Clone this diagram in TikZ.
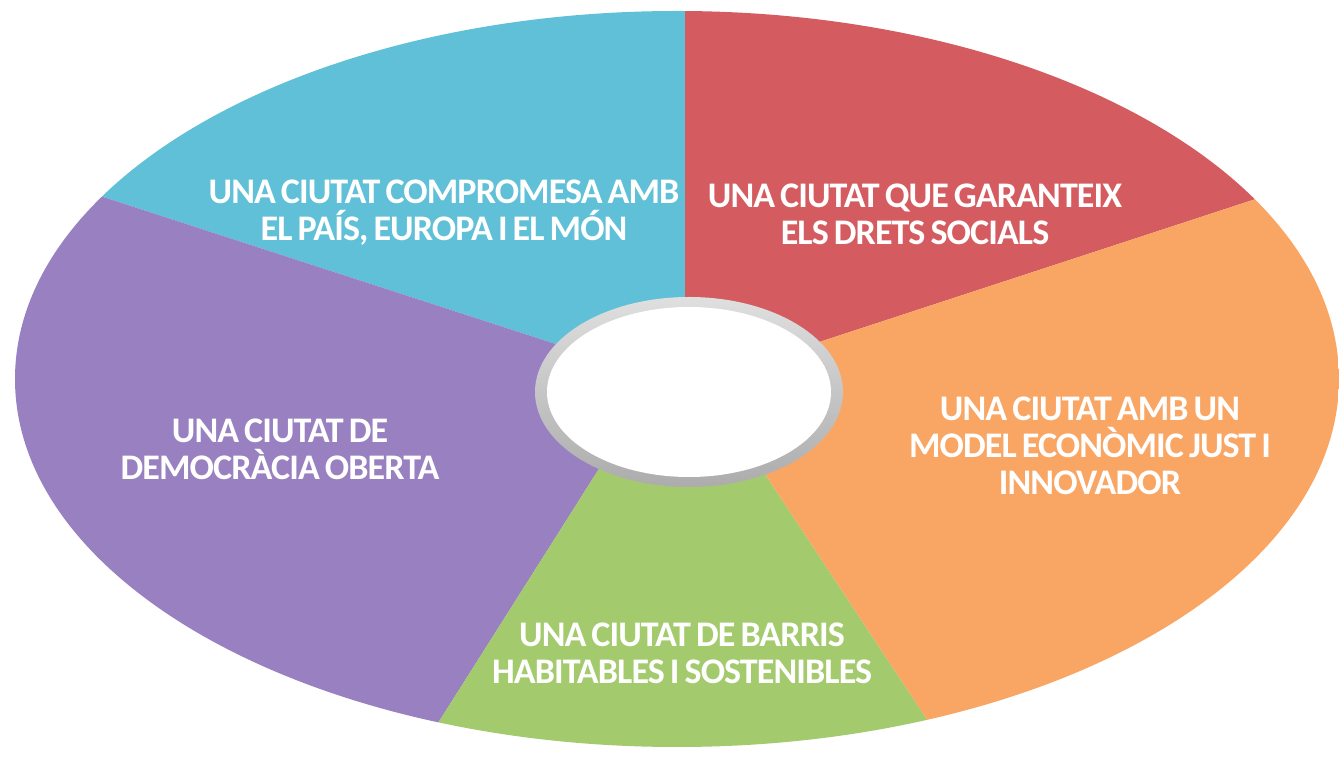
\documentclass[tikz,border=0pt]{standalone}
\usepackage{fontspec}
\usepackage{tikz}
\newfontfamily\segfont[LetterSpace=-2.5, WordSpace=0.7]{Carlito}
\definecolor{segcyan}{RGB}{96,192,215}
\definecolor{segred}{RGB}{212,92,96}
\definecolor{segorange}{RGB}{249,166,100}
\definecolor{seggreen}{RGB}{164,202,110}
\definecolor{segpurple}{RGB}{153,128,192}

\begin{document}
\begin{tikzpicture}[x=0.02cm, y=-0.02cm]
	\tikzstyle{segtext}=[align=center, text=white, font=\segfont\bfseries\fontsize{20.5}{21}\selectfont]
	\useasboundingbox (0,0) rectangle (1339,759);
	
	\begin{scope}
	\clip (677,379) ellipse [x radius=662, y radius=368];
	\fill[segcyan] (685,386) -- (685,-50) -- (-100,-50) -- (-100,131) -- cycle;
	\fill[segred] (685,386) -- (685,-50) -- (1500,-50) -- (1500,119) -- cycle;
	\fill[segpurple] (685,386) -- (-100,131) -- (-100,900) -- (326,900) -- (647,393) -- cycle;
	\fill[seggreen] (647,393) -- (326,900) -- (1046,900) -- (703,380) -- cycle;
	\fill[segorange] (685,386) -- (1500,119) -- (1500,900) -- (1046,900) -- (703,380) -- cycle;
	\end{scope}
	
	\shade[top color=gray!25, bottom color=gray!65] (689,392) ellipse [x radius=154, y radius=95];
	\fill[white] (689,392) ellipse [x radius=142, y radius=85];
	
	\node (compromesa) at (444,213) [segtext]{UNA CIUTAT COMPROMESA AMB\\EL PAÍS, EUROPA I EL MÓN};
	\node (drets) at (915,214) [segtext]{UNA CIUTAT QUE GARANTEIX\\ELS DRETS SOCIALS};
	\node (model) at (1090,446) [segtext]{UNA CIUTAT AMB UN\\MODEL ECONÒMIC JUST I\\INNOVADOR};
	\node (democracia) at (280,449) [segtext]{UNA CIUTAT DE\\DEMOCRÀCIA OBERTA};
	\node (barris) at (682,653) [segtext]{UNA CIUTAT DE BARRIS\\HABITABLES I SOSTENIBLES};
\end{tikzpicture}
\end{document}
